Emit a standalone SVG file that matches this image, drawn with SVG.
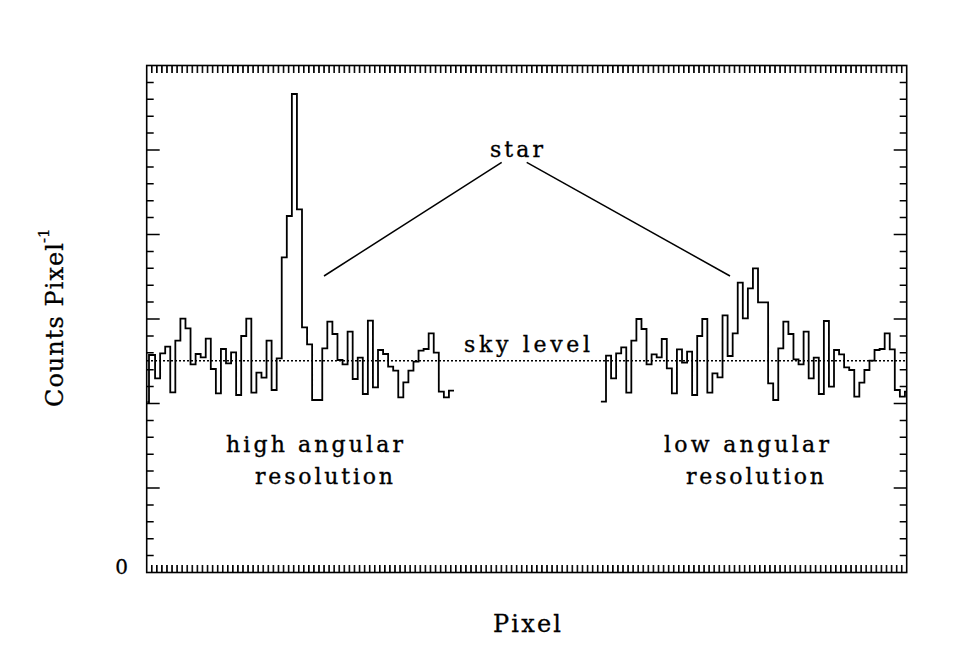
<svg xmlns="http://www.w3.org/2000/svg" width="975" height="650" viewBox="0 0 975 650">
<style>
.lbl{font-family:"DejaVu Serif","Liberation Serif",serif;font-size:22px;fill:#000;stroke:#000;stroke-width:0.35}
.ax{font-family:"DejaVu Serif","Liberation Serif",serif;font-size:24px;fill:#000;stroke:#000;stroke-width:0.3}
.hist{fill:none;stroke:#000;stroke-width:1.8;stroke-linejoin:miter}
.frame{fill:none;stroke:#000;stroke-width:1.6}
.tick{fill:none;stroke:#000;stroke-width:1.5}
.conn{fill:none;stroke:#000;stroke-width:1.5}
.sky{fill:none;stroke:#000;stroke-width:1.5;stroke-dasharray:2 2}
</style>
<defs>
<pattern id="xt" patternUnits="userSpaceOnUse" x="145.9" y="0" width="5.067" height="650">
<rect x="0" y="0" width="1.6" height="650" fill="#000"/>
</pattern>
</defs>
<rect width="975" height="650" fill="#fff"/>
<g id="axes">
<rect class="frame" x="146.7" y="65.5" width="760" height="507"/>
<rect x="149" y="65.5" width="755" height="7.5" fill="url(#xt)"/>
<rect x="149" y="565" width="755" height="7.5" fill="url(#xt)"/>
<path class="tick" d="M146.7,555.6h7M146.7,538.7h7M146.7,521.8h7M146.7,504.9h7M146.7,488h13M146.7,471.1h7M146.7,454.2h7M146.7,437.3h7M146.7,420.4h7M146.7,403.5h13M146.7,386.6h7M146.7,369.7h7M146.7,352.8h7M146.7,335.9h7M146.7,319h13M146.7,302.1h7M146.7,285.2h7M146.7,268.3h7M146.7,251.4h7M146.7,234.5h13M146.7,217.6h7M146.7,200.7h7M146.7,183.8h7M146.7,166.9h7M146.7,150h13M146.7,133.1h7M146.7,116.2h7M146.7,99.3h7M146.7,82.4h7"/>
<path class="tick" d="M906.7,555.6h-7M906.7,538.7h-7M906.7,521.8h-7M906.7,504.9h-7M906.7,488h-13M906.7,471.1h-7M906.7,454.2h-7M906.7,437.3h-7M906.7,420.4h-7M906.7,403.5h-13M906.7,386.6h-7M906.7,369.7h-7M906.7,352.8h-7M906.7,335.9h-7M906.7,319h-13M906.7,302.1h-7M906.7,285.2h-7M906.7,268.3h-7M906.7,251.4h-7M906.7,234.5h-13M906.7,217.6h-7M906.7,200.7h-7M906.7,183.8h-7M906.7,166.9h-7M906.7,150h-13M906.7,133.1h-7M906.7,116.2h-7M906.7,99.3h-7M906.7,82.4h-7"/>
<text class="ax" x="128" y="574" text-anchor="end" style="font-size:20px">0</text>
<text class="ax" x="493" y="632" textLength="68" lengthAdjust="spacing">Pixel</text>
<text class="ax" transform="translate(63,407) rotate(-90)" x="0" y="0" textLength="164" lengthAdjust="spacing">Counts Pixel</text>
<text class="ax" transform="translate(49,243) rotate(-90)" x="0" y="0" style="font-size:15px">-1</text>
</g>
<g id="sky-level">
<line class="sky" x1="147" y1="360.7" x2="906" y2="360.7"/>
<text class="lbl" x="464" y="352" textLength="126" lengthAdjust="spacing">sky level</text>
</g>
<g id="high-res">
<path class="hist" d="M147.5,402 H149 V355 H155.07 V378.3 H160.13 V353.3 H165.2 V346.7 H170.27 V392.3 H175.33 V340.7 H180.4 V318.7 H185.47 V328.3 H190.53 V364.3 H195.6 V354 H200.67 V357.3 H205.73 V338.7 H210.8 V369 H215.87 V393.3 H220.93 V349 H226 V363.3 H231.07 V352.3 H236.13 V395 H241.2 V336 H246.27 V318.7 H251.33 V392.7 H256.4 V372.7 H261.47 V377.7 H266.53 V340.7 H271.6 V390 H276.67 V358.3 H281.73 V257.3 H286.8 V216 H291.87 V94 H296.93 V209.3 H302 V327.3 H307.07 V344.3 H312.13 V400 H322.27 V348.3 H327.33 V321.7 H332.4 V334 H337.47 V360 H342.53 V364.3 H347.6 V331.7 H352.67 V379 H357.73 V357.7 H362.8 V394 H367.87 V320.7 H372.93 V387.3 H378 V350 H383.07 V354 H388.13 V366.7 H393.2 V370.7 H398.27 V397.3 H403.33 V382.3 H408.4 V370.7 H413.47 V361.7 H418.53 V350.7 H423.6 V349 H428.67 V333.3 H433.73 V352.7 H438.8 V391.7 H443.87 V397.3 H448.93 V390.7 H454"/>
<text class="lbl" x="226" y="452" textLength="177" lengthAdjust="spacing">high angular</text>
<text class="lbl" x="255" y="484" textLength="138" lengthAdjust="spacing">resolution</text>
</g>
<g id="low-res">
<path class="hist" d="M600.9,401.7 H606 V355.7 H611.07 V378.3 H616.13 V353.3 H621.2 V347.3 H626.27 V392.7 H631.33 V340.7 H636.4 V319 H641.47 V329 H646.53 V364.3 H651.6 V354.3 H656.67 V357.3 H661.73 V339 H666.8 V368.3 H671.87 V393.3 H676.93 V349.3 H682 V362.7 H687.07 V351.7 H692.13 V395 H697.2 V336 H702.27 V319 H707.33 V392.7 H712.4 V373.3 H717.47 V377.3 H722.53 V315.3 H727.6 V356 H732.67 V333.3 H737.73 V282.7 H742.8 V318.3 H747.87 V288.3 H752.93 V268.3 H758 V302.3 H768.13 V383.3 H773.2 V400 H778.27 V348.3 H783.33 V321.7 H788.4 V334 H793.47 V359.3 H798.53 V364.3 H803.6 V331.7 H808.67 V378.3 H813.73 V357.7 H818.8 V394 H823.87 V321 H828.93 V386.7 H834 V350 H839.07 V354.3 H844.13 V367.3 H849.2 V370 H854.27 V396.7 H859.33 V382.7 H864.4 V370 H869.47 V360.7 H874.53 V350 H879.6 V349 H884.67 V333.3 H889.73 V349.3 H894.8 V390 H899.87 V396.7 H904.93 V391.7 H906.7"/>
<text class="lbl" x="664" y="452" textLength="165" lengthAdjust="spacing">low angular</text>
<text class="lbl" x="686" y="484" textLength="138" lengthAdjust="spacing">resolution</text>
</g>
<g id="star">
<text class="lbl" x="490" y="157" textLength="53" lengthAdjust="spacing">star</text>
</g>
<g id="connectors">
<line class="conn" x1="501.7" y1="162.3" x2="324" y2="276"/>
<line class="conn" x1="526.7" y1="162.3" x2="730" y2="276"/>
</g>
</svg>
